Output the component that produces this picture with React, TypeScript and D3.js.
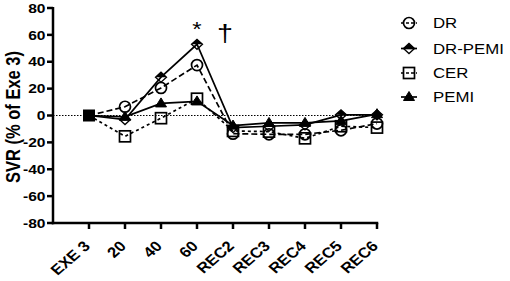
import React from "react";
import * as d3 from "d3";

const categories = ["EXE 3", "20", "40", "60", "REC2", "REC3", "REC4", "REC5", "REC6"];
const drValues = [0, 6.5, 20.5, 37.5, -13.5, -14, -14, -11, -6];
const drPemiValues = [0, -3, 28.5, 53, -9, -8, -7, 0.5, 0.5];
const cerValues = [0, -15.5, -2, 12.5, -11.5, -12, -17, -8, -9];
const pemiValues = [0, -1, 9, 10.5, -7.5, -5.5, -5.5, -4, 1];
const yTicks = [80, 60, 40, 20, 0, -20, -40, -60, -80];
const seriesNames = ["DR", "DR-PEMI", "CER", "PEMI"];

const W = 510, H = 281;
const FONT = "'Liberation Sans', Arial, sans-serif";
const SX = 1.2; // horizontal stretch of the text in the reference

type Kind = "circle" | "diamond" | "square" | "triangle";
const series: { name: string; values: number[]; dash: string | null; kind: Kind }[] = [
  { name: seriesNames[0], values: drValues, dash: "6,3", kind: "circle" },
  { name: seriesNames[1], values: drPemiValues, dash: null, kind: "diamond" },
  { name: seriesNames[2], values: cerValues, dash: "3,3", kind: "square" },
  { name: seriesNames[3], values: pemiValues, dash: null, kind: "triangle" },
];

function Marker({ kind, x, y }: { kind: Kind; x: number; y: number }) {
  const sw = 1.7;
  if (kind === "circle") return <circle cx={x} cy={y} r={5.5} fill="none" stroke="#000" strokeWidth={sw} />;
  if (kind === "square") return <rect x={x - 5.5} y={y - 5.5} width={11} height={11} fill="none" stroke="#000" strokeWidth={sw} />;
  if (kind === "triangle")
    return <path d={`M${x},${y - 5.5} L${x + 5.5},${y + 3.5} L${x - 5.5},${y + 3.5} Z`} fill="#000" stroke="#000" strokeWidth={1} />;
  return (
    <g>
      <path d={`M${x - 5.5},${y} L${x},${y - 5} L${x + 5.5},${y} Z`} fill="#000" />
      <path d={`M${x - 5.5},${y} L${x},${y - 5} L${x + 5.5},${y} L${x},${y + 5} Z`} fill="none" stroke="#000" strokeWidth={1.3} />
    </g>
  );
}

export default function App() {
  const x = d3.scaleLinear().domain([-1, categories.length - 1]).range([53, 377]);
  const y = d3.scaleLinear().domain([-80, 80]).range([223, 8]);
  const line = d3.line<number>().x((_, i) => x(i)).y((v) => y(v));

  const legendY = [23, 48.5, 73, 97];

  return (
    <svg width={W} height={H} style={{ position: "absolute", left: 0, top: 0 }} fontFamily={FONT}>
      <rect width={W} height={H} fill="#fff" />
      {/* zero dotted line */}
      <line x1={x(-1)} x2={x(categories.length - 1)} y1={y(0)} y2={y(0)} stroke="#000" strokeWidth={1} strokeDasharray="1.5,1.5" />

      {/* series lines */}
      {series.map((s) => (
        <path key={s.name} d={line(s.values) || ""} fill="none" stroke="#000" strokeWidth={1.7} strokeDasharray={s.dash || undefined} />
      ))}
      {/* markers */}
      {series.map((s) => (
        <g key={s.name + "m"}>
          {s.values.map((v, i) => (i === 0 ? null : <Marker key={i} kind={s.kind} x={x(i)} y={y(v)} />))}
        </g>
      ))}
      {/* baseline overlap marker */}
      <rect x={x(0) - 6} y={y(0) - 6} width={12} height={12} fill="#000" />

      {/* annotations */}
      <text transform={`translate(${x(3)},36) scale(${SX},1)`} textAnchor="middle" fontSize={20}>*</text>
      <text transform={`translate(${x(3) + 28},42) scale(${SX},1)`} textAnchor="middle" fontSize={24}>†</text>

      {/* y axis */}
      <line x1={53} x2={53} y1={y(80) - 1} y2={y(-80) + 1.25} stroke="#000" strokeWidth={2.5} />
      {yTicks.map((t) => (
        <g key={t}>
          <line x1={47} x2={53} y1={y(t)} y2={y(t)} stroke="#000" strokeWidth={2.5} />
          <text transform={`translate(45.5,${y(t)}) scale(${SX},1)`} dy="0.36em" textAnchor="end" fontSize={13} fontWeight="bold">{t}</text>
        </g>
      ))}
      <text transform={`translate(20,117) scale(${SX},1) rotate(-90)`} textAnchor="middle" fontSize={16.5} fontWeight="bold">SVR (% of Exe 3)</text>

      {/* x axis */}
      <line x1={53 - 1.25} x2={x(categories.length - 1) + 1.25} y1={223} y2={223} stroke="#000" strokeWidth={2.5} />
      {categories.map((c, i) => (
        <g key={c}>
          <line x1={x(i)} x2={x(i)} y1={223} y2={229} stroke="#000" strokeWidth={2.5} />
          <text transform={`translate(${x(i) + 2},247) scale(1.15,1) rotate(-45)`} textAnchor="end" fontSize={14.5} fontWeight="bold">{c}</text>
        </g>
      ))}

      {/* legend */}
      {series.map((s, i) => (
        <g key={s.name + "l"}>
          <line x1={401} x2={417} y1={legendY[i]} y2={legendY[i]} stroke="#000" strokeWidth={1.7} strokeDasharray={s.dash ? "3,2" : undefined} />
          <Marker kind={s.kind} x={409} y={legendY[i]} />
          <text transform={`translate(433,${legendY[i]}) scale(${SX},1)`} dy="0.36em" fontSize={14}>{s.name}</text>
        </g>
      ))}
    </svg>
  );
}
